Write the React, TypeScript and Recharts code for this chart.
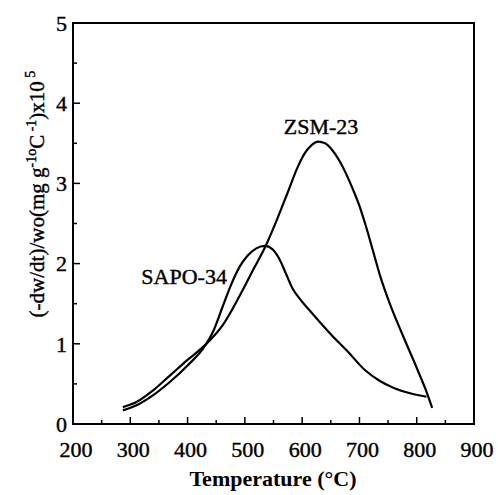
import React from "react";
import { LineChart, Line, XAxis, YAxis, ReferenceArea, ReferenceDot, Label } from "recharts";

const zsmTemp = [287, 310, 340, 370, 400, 430, 462, 491, 515, 535, 555, 575, 592, 605, 617, 628, 640, 652, 666, 689, 700, 712, 724, 736, 753, 776, 800, 815, 827];
const zsmRate = [0.21, 0.27, 0.42, 0.61, 0.8, 0.98, 1.24, 1.6, 1.93, 2.2, 2.53, 2.89, 3.2, 3.38, 3.48, 3.52, 3.5, 3.42, 3.27, 2.92, 2.72, 2.45, 2.15, 1.85, 1.5, 1.1, 0.7, 0.44, 0.2];

const sapoTemp = [287, 310, 340, 370, 400, 430, 445, 460, 475, 490, 505, 520, 535, 548, 560, 572, 584, 596, 620, 650, 680, 710, 735, 760, 790, 817];
const sapoRate = [0.17, 0.23, 0.36, 0.53, 0.73, 0.97, 1.16, 1.44, 1.72, 1.95, 2.1, 2.19, 2.22, 2.18, 2.06, 1.87, 1.68, 1.56, 1.36, 1.12, 0.9, 0.67, 0.54, 0.45, 0.38, 0.34];

const xTicks = [200, 250, 300, 350, 400, 450, 500, 550, 600, 650, 700, 750, 800, 850, 900];
const yTicks = [0, 0.5, 1, 1.5, 2, 2.5, 3, 3.5, 4, 4.5, 5];

const zsmData = zsmTemp.map((t, i) => ({ x: t, y: zsmRate[i] }));
const sapoData = sapoTemp.map((t, i) => ({ x: t, y: sapoRate[i] }));

const FONT = "'Liberation Serif', 'Times New Roman', serif";
const TXT = { fontFamily: FONT, fill: "#000", stroke: "#000", strokeWidth: 0.4 };

const XTick = (props: any) => {
  const { x, y, payload } = props;
  const v = payload.value;
  const major = v % 100 === 0;
  return (
    <g>
      <line x1={x} y1={y} x2={x} y2={y - (major ? 7 : 4)} stroke="#000" strokeWidth={1.5} />
      {major && (
        <text x={x + 3} y={y + 33} textAnchor="middle" fontSize={22} {...TXT}>
          {v}
        </text>
      )}
    </g>
  );
};

const YTick = (props: any) => {
  const { x, y, payload } = props;
  const v = payload.value;
  const major = Number.isInteger(v);
  return (
    <g>
      <line x1={x} y1={y} x2={x + (major ? 7 : 4)} y2={y} stroke="#000" strokeWidth={1.5} />
      {major && (
        <text x={x - 6} y={y} dy="0.35em" textAnchor="end" fontSize={22} {...TXT}>
          {v}
        </text>
      )}
    </g>
  );
};

const SeriesLabel = (text: string) => (props: any) => (
  <text x={props.cx} y={props.cy} textAnchor="middle" fontSize={22} {...TXT}>
    {text}
  </text>
);

export default function App() {
  return (
    <div style={{ position: "absolute", left: 0, top: 0, background: "#fff" }}>
      <LineChart width={498} height={495} margin={{ top: 23, right: 24, left: 0, bottom: 0 }}>
        <XAxis
          dataKey="x"
          type="number"
          domain={[200, 900]}
          ticks={xTicks}
          interval={0}
          tick={<XTick />}
          tickLine={false}
          tickSize={0}
          tickMargin={0}
          height={71}
          axisLine={{ stroke: "#000", strokeWidth: 2 }}
          allowDataOverflow
        >
          <Label
            content={() => (
              <text x={273} y={486} textAnchor="middle" fontSize={22} fontWeight="bold" fontFamily={FONT} fill="#000">
                Temperature (°C)
              </text>
            )}
          />
        </XAxis>
        <YAxis
          dataKey="y"
          type="number"
          domain={[0, 5]}
          ticks={yTicks}
          interval={0}
          tick={<YTick />}
          tickLine={false}
          tickSize={0}
          tickMargin={0}
          width={73}
          axisLine={{ stroke: "#000", strokeWidth: 2 }}
          allowDataOverflow
        >
          <Label
            content={() => (
              <text
                x={44}
                y={194}
                transform="rotate(-90 44 194)"
                textAnchor="middle"
                fontSize={21}
                {...TXT}
              >
                (-dw/dt)/wo(mg g
                <tspan dy={-8} fontSize={14}>-1</tspan>
                <tspan dy={0} fontSize={14}>o</tspan>
                <tspan dy={8}>C</tspan>
                <tspan dy={-8} fontSize={14}> -1</tspan>
                <tspan dy={8}>)x10</tspan>
                <tspan dy={-9} fontSize={14}> 5</tspan>
              </text>
            )}
          />
        </YAxis>
        <ReferenceArea x1={200} x2={900} y1={0} y2={5} fill="none" stroke="#000" strokeWidth={2} />
        <Line
          data={zsmData}
          dataKey="y"
          type="monotone"
          stroke="#000"
          strokeWidth={2.2}
          dot={false}
          isAnimationActive={false}
        />
        <Line
          data={sapoData}
          dataKey="y"
          type="monotone"
          stroke="#000"
          strokeWidth={2.2}
          dot={false}
          isAnimationActive={false}
        />
        <ReferenceDot x={633} y={3.62} r={0} shape={SeriesLabel("ZSM-23")} />
        <ReferenceDot x={394} y={1.75} r={0} shape={SeriesLabel("SAPO-34")} />
      </LineChart>
    </div>
  );
}
